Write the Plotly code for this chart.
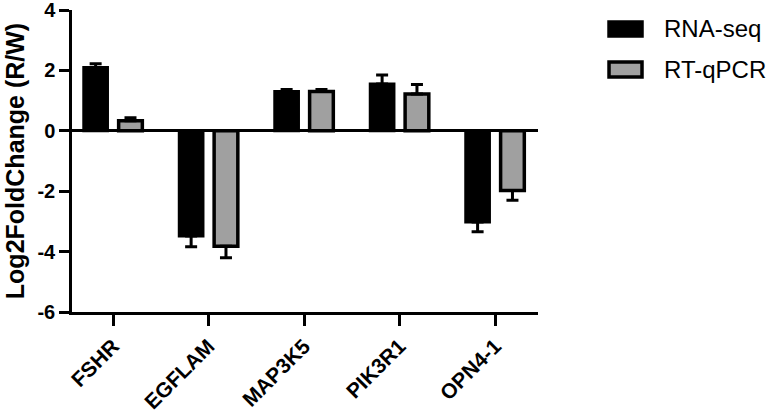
import plotly.graph_objects as go

# gènes et valeurs
genes = ["FSHR", "EGFLAM", "MAP3K5", "PIK3R1", "OPN4-1"]
rna_seq = [2.1, -3.48, 1.3, 1.55, -3.02]
rna_seq_err = [0.12, 0.36, 0.07, 0.3, 0.32]
rt_qpcr = [0.33, -3.82, 1.3, 1.22, -1.98]
rt_qpcr_err = [0.1, 0.38, 0.07, 0.31, 0.32]
y_ticks = [4, 2, 0, -2, -4, -6]

GRIS = "#a0a0a0"


def barres_erreur(vals, errs):
    # barre d'erreur uniquement dans le sens de la barre
    return dict(
        type="data", symmetric=False,
        array=[e if v > 0 else 0 for v, e in zip(vals, errs)],
        arrayminus=[e if v < 0 else 0 for v, e in zip(vals, errs)],
        color="black", thickness=3, width=6,
    )


fig = go.Figure()
fig.add_trace(go.Bar(
    x=genes, y=rna_seq, name="RNA-seq",
    marker=dict(color="black", line=dict(color="black", width=3)),
    error_y=barres_erreur(rna_seq, rna_seq_err),
))
fig.add_trace(go.Bar(
    x=genes, y=rt_qpcr, name="RT-qPCR",
    marker=dict(color=GRIS, line=dict(color="black", width=3.5)),
    error_y=barres_erreur(rt_qpcr, rt_qpcr_err),
))

# légende dessinée à la main (rectangles larges comme sur l'original)
legende = [("RNA-seq", "black", 0.9603, 0.9139), ("RT-qPCR", GRIS, 0.8278, 0.7781)]
for nom, couleur, y0, y1 in legende:
    fig.add_shape(type="rect", xref="paper", yref="paper",
                  x0=1.1524, x1=1.2232, y0=y1, y1=y0,
                  fillcolor=couleur, line=dict(color="black", width=3.5))
    fig.add_annotation(text=nom, xref="paper", yref="paper",
                       x=1.266, y=(y0 + y1) / 2, xanchor="left", yanchor="middle",
                       showarrow=False, font=dict(size=24, color="black"))

fig.update_layout(
    width=771, height=415,
    margin=dict(l=72, r=233, t=10, b=103),
    plot_bgcolor="white", paper_bgcolor="white",
    barmode="group", bargap=0.27, bargroupgap=0.32,
    font=dict(family="Arial, Liberation Sans", color="black"),
    showlegend=False,
    xaxis=dict(
        range=[-0.43, 4.45], showline=True, linecolor="black", linewidth=2.5,
        ticks="outside", ticklen=11, tickwidth=2.5, tickcolor="black",
        tickangle=-45, tickfont=dict(size=21, weight="bold"),
        showgrid=False, automargin=False,
    ),
    yaxis=dict(
        range=[-6, 4], tickvals=y_ticks, ticktext=[str(v) for v in y_ticks],
        showline=True, linecolor="black", linewidth=2.5,
        ticks="outside", ticklen=10, tickwidth=2.5, tickcolor="black",
        tickfont=dict(size=20, weight="bold"), showgrid=False,
        ticklabeloverflow="allow", automargin=False,
        zeroline=True, zerolinecolor="black", zerolinewidth=3,
        title=dict(text="Log2FoldChange (R/W)", font=dict(size=25, weight="bold"), standoff=6),
    ),
)

# pas de marge du body pour que la figure commence au coin de la page
fig.write_html("out.html", config={"displayModeBar": False},
               post_script="document.body.style.margin='0';")
